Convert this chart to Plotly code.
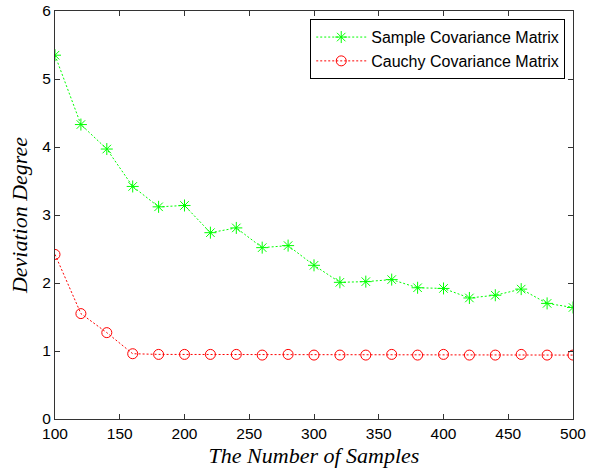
import plotly.graph_objects as go

samples = [100, 120, 140, 160, 180, 200, 220, 240, 260, 280, 300,
           320, 340, 360, 380, 400, 420, 440, 460, 480, 500]
sample_cov = [5.35, 4.33, 3.97, 3.42, 3.12, 3.14, 2.74, 2.81, 2.52, 2.55, 2.26,
              2.01, 2.02, 2.05, 1.93, 1.92, 1.78, 1.82, 1.91, 1.70, 1.64]
cauchy_cov = [2.42, 1.55, 1.27, 0.96, 0.95, 0.95, 0.95, 0.95, 0.94, 0.95, 0.94,
              0.94, 0.94, 0.95, 0.94, 0.95, 0.94, 0.94, 0.95, 0.94, 0.94]

x_ticks = [100, 150, 200, 250, 300, 350, 400, 450, 500]
y_ticks = [0, 1, 2, 3, 4, 5, 6]

fig = go.Figure()
fig.add_trace(go.Scatter(
    x=samples, y=sample_cov, mode="lines+markers",
    name="Sample Covariance Matrix",
    line=dict(color="#00ff00", width=1, dash="2px,2px"),
    marker=dict(symbol="asterisk-open", size=10, color="#00ff00",
                line=dict(color="#00ff00", width=1)),
))
fig.add_trace(go.Scatter(
    x=samples, y=cauchy_cov, mode="lines+markers",
    name="Cauchy Covariance Matrix",
    line=dict(color="#ff0000", width=1, dash="2px,2px"),
    marker=dict(symbol="circle-open", size=10, color="#ff0000",
                line=dict(color="#ff0000", width=1)),
))

axis_common = dict(
    showline=True, linecolor="#333333", linewidth=1, mirror="allticks",
    ticks="inside", ticklen=5, tickcolor="#333333", tickwidth=1,
    showgrid=False, zeroline=False,
    tickfont=dict(family="Liberation Sans, Arial", size=15.5, color="black"),
)

title_font = dict(family="Liberation Serif, Times New Roman",
                  size=22, style="italic", color="black")

fig.update_layout(
    width=600, height=470,
    margin=dict(l=55, r=27, t=11, b=51),
    paper_bgcolor="white", plot_bgcolor="white",
    xaxis=dict(range=[100, 500], tickvals=x_ticks, automargin=False,
               title=dict(text="The Number of Samples", standoff=7, font=title_font),
               **axis_common),
    yaxis=dict(range=[0, 6], tickvals=y_ticks, automargin=False,
               title=dict(text="Deviation Degree", standoff=8, font=title_font),
               **axis_common),
    legend=dict(x=0.985, y=0.98, xanchor="right", yanchor="top",
                bgcolor="white", bordercolor="black", borderwidth=1,
                font=dict(family="Liberation Sans, Arial", size=16, color="black"),
                itemwidth=50, tracegroupgap=0),
    showlegend=True,
)

fig.write_html("out.html")
